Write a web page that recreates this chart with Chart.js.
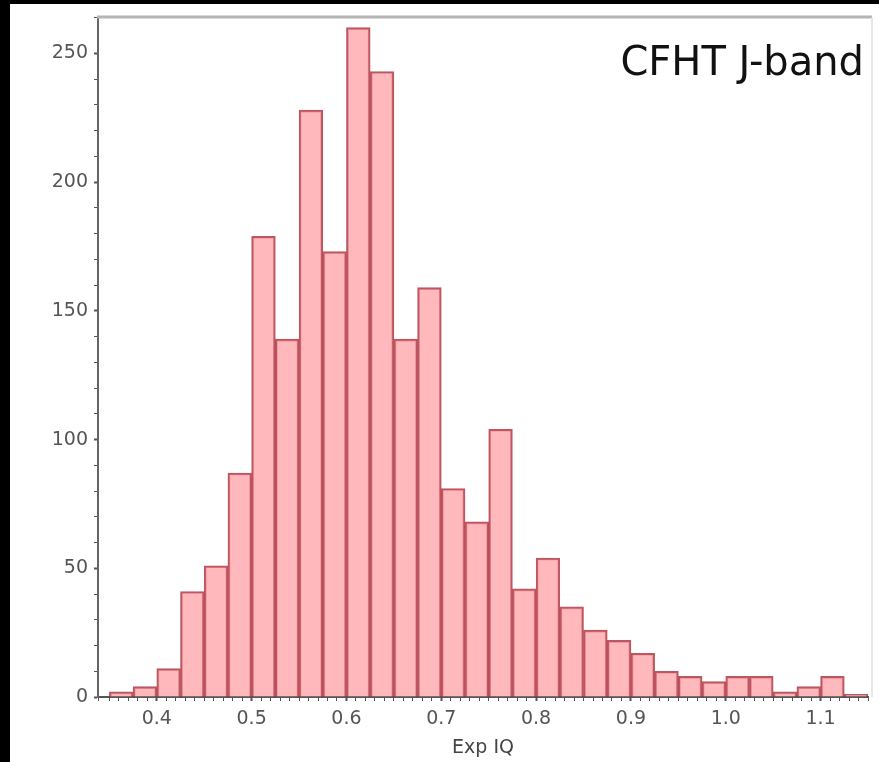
<!DOCTYPE html>
<html>
<head>
<meta charset="utf-8">
<script src="https://cdn.jsdelivr.net/npm/chart.js@4.4.1/dist/chart.umd.min.js"></script>
<style>
    html, body { margin: 0; padding: 0; background: #000; }
    #wrap { position: absolute; left: 0; top: 0; width: 879px; height: 762px; }
</style>
</head>
<body>
<div id="wrap"><canvas id="iqChart" width="879" height="762"></canvas></div>
<script>
    // histogram bins (centre of each 0.025 wide bin) and counts
    const binWidth = 0.025;
    const binCenters = [0.3625, 0.3875, 0.4125, 0.4375, 0.4625, 0.4875, 0.5125, 0.5375,
        0.5625, 0.5875, 0.6125, 0.6375, 0.6625, 0.6875, 0.7125, 0.7375,
        0.7625, 0.7875, 0.8125, 0.8375, 0.8625, 0.8875, 0.9125, 0.9375,
        0.9625, 0.9875, 1.0125, 1.0375, 1.0625, 1.0875, 1.1125, 1.1375];
    const counts = [2, 4, 11, 41, 51, 87, 179, 139,
        228, 173, 260, 243, 139, 159, 81, 68,
        104, 42, 54, 35, 26, 22, 17, 10,
        8, 6, 8, 8, 2, 4, 8, 1];
    const xTickLabels = ['0.4', '0.5', '0.6', '0.7', '0.8', '0.9', '1.0', '1.1'];
    const yTickLabels = ['0', '50', '100', '150', '200', '250'];
    const chartTitle = 'CFHT J-band';
    const xAxisTitle = 'Exp IQ';

    const tickFont = { family: '"DejaVu Sans", sans-serif', size: 19 };

    // black border round the white panel, gray frame on top/right, title text
    const panelPlugin = {
        id: 'panel',
        beforeDraw(chart) {
            const ctx = chart.ctx;
            ctx.save();
            ctx.fillStyle = '#000';
            ctx.fillRect(0, 0, chart.width, chart.height);
            ctx.fillStyle = '#fff';
            ctx.fillRect(10, 4, chart.width - 10, chart.height - 4);
            ctx.restore();
        },
        afterDraw(chart) {
            const ctx = chart.ctx;
            const a = chart.chartArea;
            ctx.save();
            ctx.strokeStyle = '#b4b4b4';
            ctx.lineWidth = 3;
            ctx.beginPath();
            ctx.moveTo(a.left - 1, a.top - 0.5);
            ctx.lineTo(a.right + 4, a.top - 0.5);
            ctx.stroke();
            ctx.strokeStyle = '#e6e6e6';
            ctx.lineWidth = 2;
            ctx.beginPath();
            ctx.moveTo(a.right + 4, a.top);
            ctx.lineTo(a.right + 4, a.bottom);
            ctx.stroke();

            ctx.fillStyle = '#111';
            ctx.font = '40px "DejaVu Sans", sans-serif';
            ctx.textAlign = 'right';
            ctx.textBaseline = 'alphabetic';
            ctx.fillText(chartTitle, 864, 75);
            ctx.restore();
        }
    };

    function isMajorX(v) {
        const s = v.toFixed(1);
        return Math.abs(v - Number(s)) < 1e-6 && xTickLabels.includes(s);
    }

    const ctx = document.getElementById('iqChart').getContext('2d');
    const chart = new Chart(ctx, {
        type: 'bar',
        data: {
            datasets: [{
                label: 'Exp IQ',
                data: binCenters.map((c, i) => ({ x: c, y: counts[i] })),
                backgroundColor: 'rgba(255, 160, 166, 0.75)',
                borderColor: 'rgba(176, 56, 68, 0.85)',
                borderWidth: 2,
                barPercentage: 1,
                categoryPercentage: 1
            }]
        },
        options: {
            responsive: false,
            animation: false,
            layout: { padding: { left: 10, top: 14, right: 11, bottom: 0 } },
            plugins: {
                legend: { display: false },
                tooltip: { enabled: false }
            },
            scales: {
                x: {
                    type: 'linear',
                    offset: false,
                    min: 0.338,
                    max: 1.15,
                    afterFit(scale) { scale.height = 65; },
                    grid: {
                        offset: false,
                        drawOnChartArea: false,
                        tickLength: 4,
                        color: '#555',
                        tickWidth: (c) => (c.tick && isMajorX(c.tick.value) ? 2 : 1)
                    },
                    border: { display: true, color: '#555', width: 2 },
                    ticks: {
                        stepSize: 0.01,
                        autoSkip: false,
                        maxRotation: 0,
                        minRotation: 0,
                        padding: 7,
                        color: '#555',
                        font: tickFont,
                        callback: (v) => (isMajorX(v) ? v.toFixed(1) : '')
                    },
                    title: {
                        display: true,
                        text: xAxisTitle,
                        color: '#444',
                        font: { family: '"DejaVu Sans", sans-serif', size: 19 },
                        padding: { top: 0, bottom: 3 }
                    }
                },
                y: {
                    min: 0,
                    max: 264,
                    afterFit(scale) { scale.width = 88; },
                    grid: {
                        drawOnChartArea: false,
                        tickLength: 4,
                        color: '#555',
                        tickWidth: (c) => (c.tick && yTickLabels.includes(String(c.tick.value)) ? 2 : 1)
                    },
                    border: { display: true, color: '#666', width: 2 },
                    ticks: {
                        stepSize: 10,
                        autoSkip: false,
                        padding: 6,
                        color: '#555',
                        font: tickFont,
                        callback: (v) => (yTickLabels.includes(String(v)) ? String(v) : '')
                    }
                }
            }
        },
        plugins: [panelPlugin]
    });

    // bars span the full bin: width taken from the x scale itself
    const xScale = chart.scales.x;
    chart.data.datasets[0].barThickness = xScale.getPixelForValue(binWidth) - xScale.getPixelForValue(0);
    chart.update();
</script>
</body>
</html>
